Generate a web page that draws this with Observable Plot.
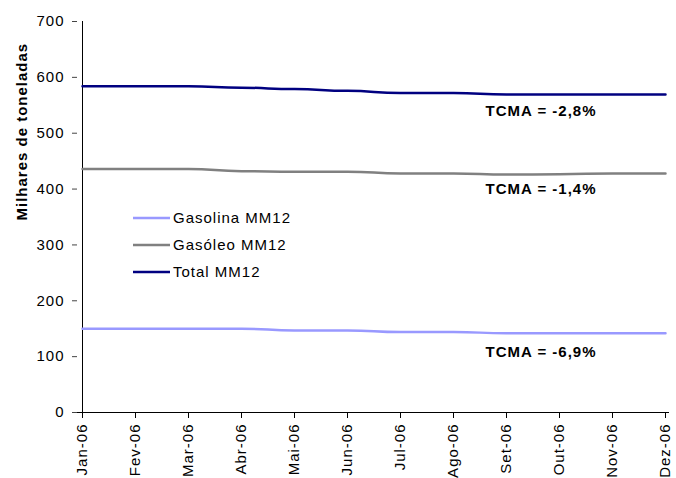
<!DOCTYPE html>
<html>
<head>
<meta charset="utf-8">
<script src="https://cdn.jsdelivr.net/npm/d3@7"></script>
<script src="https://cdn.jsdelivr.net/npm/@observablehq/plot@0.6"></script>
<style>
  html, body { margin: 0; padding: 0; background: #fff; }
  #chart { position: relative; width: 676px; height: 478px; overflow: hidden; }
  #chart svg, #chart svg text { font-family: "Liberation Sans", Arial, Helvetica, sans-serif; }
</style>
</head>
<body>
<div id="chart"></div>
<script>
const months = ["Jan-06","Fev-06","Mar-06","Abr-06","Mai-06","Jun-06","Jul-06","Ago-06","Set-06","Out-06","Nov-06","Dez-06"];
const total    = [584, 584, 584, 581.5, 579, 576, 572, 572, 569.5, 569.5, 569.5, 569.5];
const gasoleo  = [436, 436, 436, 432, 431, 431, 428, 428, 426, 426.5, 428, 428];
const gasolina = [150, 150, 150, 150, 147, 147, 144, 144, 142, 142, 142, 142];
const seriesNames  = ["Gasolina MM12", "Gasóleo MM12", "Total MM12"];
const seriesColors = ["#9999ff", "#808080", "#000080"];
const yTicks = [0, 100, 200, 300, 400, 500, 600, 700];
const tcmaText = ["TCMA = -2,8%", "TCMA = -1,4%", "TCMA = -6,9%"];
const tcmaY    = [540, 400, 108];
const tcmaX    = ["Set-06", "Set-06", "Set-06"];
const yTitle = "Milhares de toneladas";

const allSeries = [gasolina, gasoleo, total];
const rows = [];
allSeries.forEach((vals, s) => vals.forEach((v, i) => rows.push({month: months[i], value: v, series: seriesNames[s]})));
const notes = tcmaText.map((t, i) => ({text: t, month: tcmaX[i], value: tcmaY[i]}));

const font = "Liberation Sans, Arial, Helvetica, sans-serif";

const plot = Plot.plot({
  width: 676,
  height: 478,
  marginLeft: 77,
  marginRight: 7,
  marginTop: 21,
  marginBottom: 66,
  style: {fontSize: "15px", letterSpacing: "1px", color: "#000", background: "#fff", overflow: "visible"},
  x: {type: "point", domain: months, padding: 0, axis: null},
  y: {domain: [0, 700], axis: null},
  color: {domain: seriesNames, range: seriesColors},
  marks: [
    Plot.axisY({ticks: yTicks, tickSize: 5, tickPadding: 8, label: null, stroke: "#444", fill: "#000"}),
    Plot.axisX({tickRotate: -90, tickSize: 6, tickPadding: 5, label: null, stroke: "#000", fill: "#000"}),
    Plot.ruleY([0], {stroke: "#000", strokeWidth: 1}),
    Plot.ruleX([months[0]], {stroke: "#000", strokeWidth: 1}),
    Plot.line(rows, {x: "month", y: "value", z: "series", stroke: "series", strokeWidth: 2.5, curve: "bump-x"}),
    Plot.text(notes, {x: "month", y: "value", text: "text", textAnchor: "start", dx: -21, fontWeight: "bold", fontSize: 15, fill: "#000"}),
    Plot.text([yTitle], {frameAnchor: "left", text: d => d, rotate: -90, dx: -55.5, dy: 3.5, fontWeight: "bold", fontSize: 15, fill: "#000"})
  ]
});

document.getElementById("chart").appendChild(plot);

// Legend (inside the plot area)
const svg = d3.select(plot);
const lg = svg.append("g").attr("font-size", 15).attr("letter-spacing", "1px").attr("text-anchor", "start");
seriesNames.forEach((name, i) => {
  const yy = 218 + i * 27;
  lg.append("line").attr("x1", 133).attr("x2", 170).attr("y1", yy).attr("y2", yy)
    .attr("stroke", seriesColors[i]).attr("stroke-width", 2.5);
  lg.append("text").attr("x", 173).attr("y", yy).attr("dy", "0.35em").attr("fill", "#000").text(name);
});
</script>
</body>
</html>
